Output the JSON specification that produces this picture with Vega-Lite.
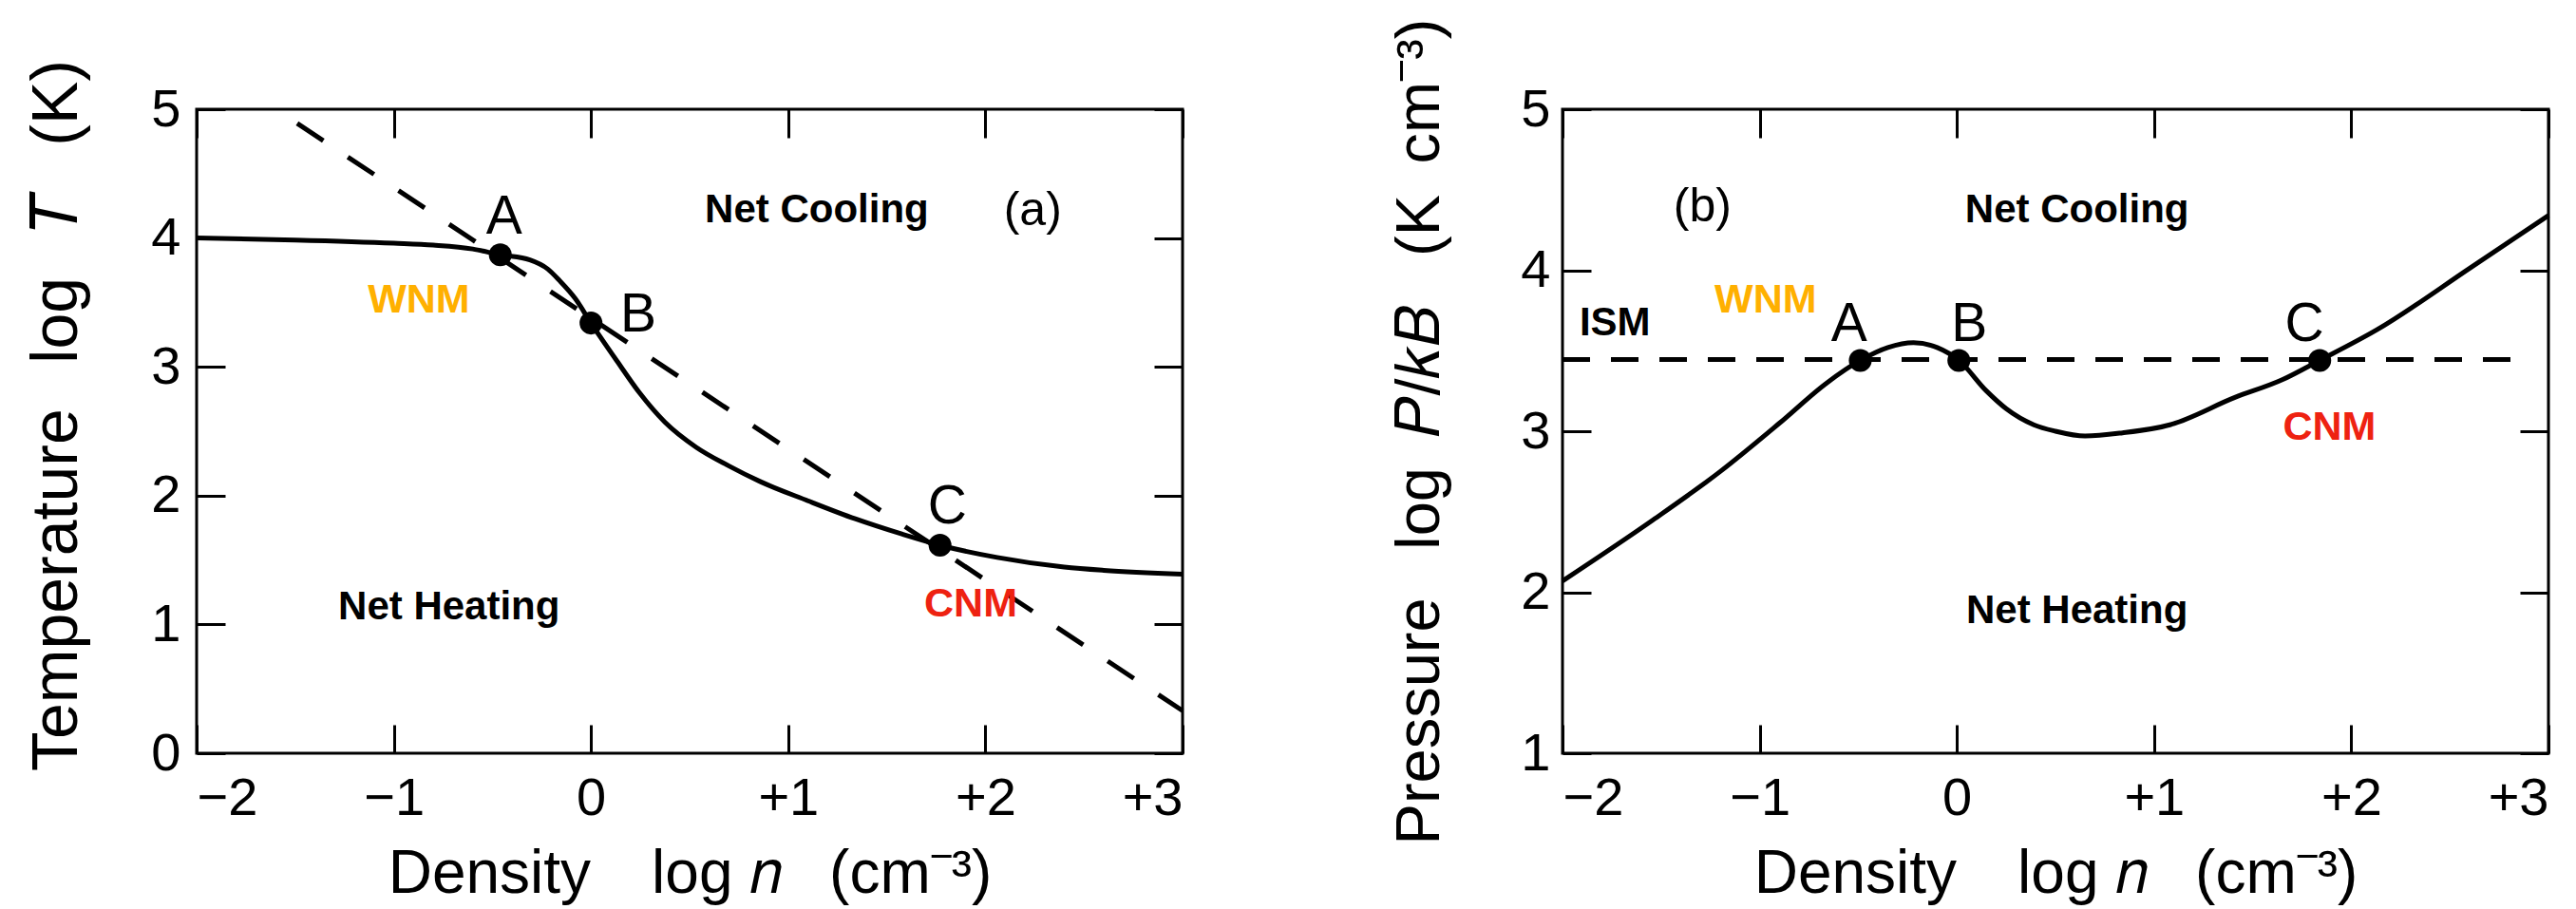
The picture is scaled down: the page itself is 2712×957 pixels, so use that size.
{
  "$schema": "https://vega.github.io/schema/vega-lite/v6.json",
  "background": "white",
  "padding": {"left": 25, "top": 17, "right": 5, "bottom": 5},
  "bounds": "flush",
  "spacing": 400,
  "config": {
    "font": "Liberation Sans",
    "view": {"stroke": "black", "strokeWidth": 3},
    "axis": {
      "grid": false, "domain": false, "tickColor": "black", "tickWidth": 3, "tickSize": -30,
      "labelColor": "black", "labelFont": "Liberation Sans", "labelFontSize": 56,
      "titleFont": "Liberation Sans", "titleFontSize": 64, "titleFontWeight": "normal", "titleColor": "black"
    }
  },
  "datasets": {
    "curveA": [
      {"x": -2.0, "y": 4.0}, {"x": -1.5, "y": 3.985}, {"x": -1.0, "y": 3.96}, {"x": -0.8, "y": 3.945},
      {"x": -0.6, "y": 3.915}, {"x": -0.46, "y": 3.87}, {"x": -0.31, "y": 3.83}, {"x": -0.22, "y": 3.76},
      {"x": -0.16, "y": 3.67}, {"x": -0.08, "y": 3.53}, {"x": 0.0, "y": 3.34}, {"x": 0.134, "y": 3.04},
      {"x": 0.245, "y": 2.8}, {"x": 0.375, "y": 2.57}, {"x": 0.534, "y": 2.375}, {"x": 0.7, "y": 2.23},
      {"x": 0.857, "y": 2.11}, {"x": 1.1, "y": 1.96}, {"x": 1.34, "y": 1.82}, {"x": 1.58, "y": 1.7},
      {"x": 1.77, "y": 1.615}, {"x": 2.06, "y": 1.52}, {"x": 2.4, "y": 1.445}, {"x": 2.6, "y": 1.42},
      {"x": 3.0, "y": 1.39}
    ],
    "dashA": [{"x": -1.49, "y": 4.89}, {"x": 3.0, "y": 0.33}],
    "ptsA": [{"x": -0.46, "y": 3.87}, {"x": 0.0, "y": 3.34}, {"x": 1.77, "y": 1.615}],
    "lettersA": [
      {"x": -0.44, "y": 4.034, "label": "A"},
      {"x": 0.24, "y": 3.274, "label": "B"},
      {"x": 1.807, "y": 1.785, "label": "C"}
    ],
    "boldA": [
      {"x": 1.145, "y": 4.12, "label": "Net Cooling"},
      {"x": -0.72, "y": 1.04, "label": "Net Heating"}
    ],
    "phaseA": [
      {"x": -0.873, "y": 3.42, "label": "WNM"},
      {"x": 1.926, "y": 1.062, "label": "CNM"}
    ],
    "tagA": [{"x": 2.24, "y": 4.21, "label": "(a)"}],
    "curveB": [
      {"x": -2.0, "y": 2.07}, {"x": -1.54, "y": 2.45}, {"x": -1.2, "y": 2.75}, {"x": -0.9, "y": 3.05},
      {"x": -0.66, "y": 3.3}, {"x": -0.49, "y": 3.44}, {"x": -0.35, "y": 3.52}, {"x": -0.22, "y": 3.55},
      {"x": -0.1, "y": 3.52}, {"x": 0.01, "y": 3.44}, {"x": 0.15, "y": 3.25}, {"x": 0.25, "y": 3.14},
      {"x": 0.39, "y": 3.04}, {"x": 0.5, "y": 3.0}, {"x": 0.65, "y": 2.97}, {"x": 0.84, "y": 2.99},
      {"x": 1.08, "y": 3.04}, {"x": 1.41, "y": 3.21}, {"x": 1.65, "y": 3.32}, {"x": 1.84, "y": 3.44},
      {"x": 2.13, "y": 3.63}, {"x": 2.61, "y": 4.02}, {"x": 3.0, "y": 4.34}
    ],
    "dashB": [{"x": -2.0, "y": 3.445}, {"x": 2.9, "y": 3.445}],
    "ptsB": [{"x": -0.49, "y": 3.44}, {"x": 0.01, "y": 3.44}, {"x": 1.84, "y": 3.44}],
    "lettersB": [
      {"x": -0.546, "y": 3.56, "label": "A"},
      {"x": 0.063, "y": 3.56, "label": "B"},
      {"x": 1.763, "y": 3.56, "label": "C"}
    ],
    "boldB": [
      {"x": 0.609, "y": 4.3, "label": "Net Cooling"},
      {"x": 0.609, "y": 1.81, "label": "Net Heating"},
      {"x": -1.734, "y": 3.596, "label": "ISM"}
    ],
    "phaseB": [
      {"x": -0.97, "y": 3.74, "label": "WNM"},
      {"x": 1.889, "y": 2.947, "label": "CNM"}
    ],
    "tagB": [{"x": -1.29, "y": 4.39, "label": "(b)"}]
  },
  "hconcat": [
    {
      "width": 1038,
      "height": 678,
      "resolve": {"axis": {"x": "independent", "y": "independent"}},
      "layer": [
        {
          "data": {"name": "curveA"},
          "mark": {"type": "line", "color": "black", "strokeWidth": 5, "interpolate": "monotone"},
          "encoding": {
            "x": {"field": "x", "type": "quantitative", "scale": {"domain": [-2, 3], "nice": false, "zero": false},
                  "axis": {"orient": "bottom", "values": [-2, -1, 0, 1, 2, 3], "labelPadding": 50,
                           "labelExpr": "datum.value > 0 ? '+' + datum.value : (datum.value < 0 ? '−' + (-datum.value) : '0')",
                           "title": "Density\u2003log\u00a0𝑛\u2002\u00a0(cm⁻³)", "titlePadding": 20}},
            "y": {"field": "y", "type": "quantitative", "scale": {"domain": [0, 5], "nice": false, "zero": false},
                  "axis": {"orient": "left", "values": [0, 1, 2, 3, 4, 5], "labelPadding": 47,
                           "title": "Temperature\u2002\u2009log\u2002\u2009𝑇\u2002\u2009(K)", "titleFontSize": 68, "titlePadding": 64, "titleY": 322}}
          }
        },
        {
          "data": {"name": "dashA"},
          "mark": {"type": "line", "color": "black", "strokeWidth": 5, "strokeDash": [33, 31]},
          "encoding": {
            "x": {"field": "x", "type": "quantitative", "scale": {"domain": [-2, 3], "nice": false, "zero": false},
                  "axis": {"orient": "top", "values": [-2, -1, 0, 1, 2, 3], "labels": false, "title": null}},
            "y": {"field": "y", "type": "quantitative", "scale": {"domain": [0, 5], "nice": false, "zero": false},
                  "axis": {"orient": "right", "values": [0, 1, 2, 3, 4, 5], "labels": false, "title": null}}
          }
        },
        {
          "data": {"name": "ptsA"},
          "mark": {"type": "circle", "color": "black", "opacity": 1, "size": 580},
          "encoding": {
            "x": {"field": "x", "type": "quantitative", "axis": null},
            "y": {"field": "y", "type": "quantitative", "axis": null}
          }
        },
        {
          "data": {"name": "lettersA"},
          "mark": {"type": "text", "fontSize": 57, "align": "center", "baseline": "alphabetic", "color": "black"},
          "encoding": {
            "x": {"field": "x", "type": "quantitative", "axis": null},
            "y": {"field": "y", "type": "quantitative", "axis": null},
            "text": {"field": "label"}
          }
        },
        {
          "data": {"name": "boldA"},
          "mark": {"type": "text", "fontSize": 42, "fontWeight": "bold", "align": "center", "baseline": "alphabetic", "color": "black"},
          "encoding": {
            "x": {"field": "x", "type": "quantitative", "axis": null},
            "y": {"field": "y", "type": "quantitative", "axis": null},
            "text": {"field": "label"}
          }
        },
        {
          "data": {"name": "phaseA"},
          "mark": {"type": "text", "fontSize": 43, "fontWeight": "bold", "align": "center", "baseline": "alphabetic"},
          "encoding": {
            "x": {"field": "x", "type": "quantitative", "axis": null},
            "y": {"field": "y", "type": "quantitative", "axis": null},
            "text": {"field": "label"},
            "color": {"field": "label", "type": "nominal", "scale": {"domain": ["WNM", "CNM"], "range": ["#FFB000", "#EE2211"]}, "legend": null}
          }
        },
        {
          "data": {"name": "tagA"},
          "mark": {"type": "text", "fontSize": 50, "align": "center", "baseline": "middle", "color": "black"},
          "encoding": {
            "x": {"field": "x", "type": "quantitative", "axis": null},
            "y": {"field": "y", "type": "quantitative", "axis": null},
            "text": {"field": "label"}
          }
        }
      ]
    },
    {
      "width": 1038,
      "height": 678,
      "resolve": {"axis": {"x": "independent", "y": "independent"}},
      "layer": [
        {
          "data": {"name": "curveB"},
          "mark": {"type": "line", "color": "black", "strokeWidth": 5, "interpolate": "monotone"},
          "encoding": {
            "x": {"field": "x", "type": "quantitative", "scale": {"domain": [-2, 3], "nice": false, "zero": false},
                  "axis": {"orient": "bottom", "values": [-2, -1, 0, 1, 2, 3], "labelPadding": 50,
                           "labelExpr": "datum.value > 0 ? '+' + datum.value : (datum.value < 0 ? '−' + (-datum.value) : '0')",
                           "title": "Density\u2003log\u00a0𝑛\u2002\u00a0(cm⁻³)", "titlePadding": 20}},
            "y": {"field": "y", "type": "quantitative", "scale": {"domain": [1, 5], "nice": false, "zero": false},
                  "axis": {"orient": "left", "values": [1, 2, 3, 4, 5], "labelPadding": 43,
                           "title": "Pressure\u2002\u00a0log\u2002𝑃/𝑘𝐵\u2002\u00a0(K\u2002cm⁻³)", "titleFontSize": 65, "titlePadding": 72}}
          }
        },
        {
          "data": {"name": "dashB"},
          "mark": {"type": "line", "color": "black", "strokeWidth": 5, "strokeDash": [29, 22]},
          "encoding": {
            "x": {"field": "x", "type": "quantitative", "scale": {"domain": [-2, 3], "nice": false, "zero": false},
                  "axis": {"orient": "top", "values": [-2, -1, 0, 1, 2, 3], "labels": false, "title": null}},
            "y": {"field": "y", "type": "quantitative", "scale": {"domain": [1, 5], "nice": false, "zero": false},
                  "axis": {"orient": "right", "values": [1, 2, 3, 4, 5], "labels": false, "title": null}}
          }
        },
        {
          "data": {"name": "ptsB"},
          "mark": {"type": "circle", "color": "black", "opacity": 1, "size": 580},
          "encoding": {
            "x": {"field": "x", "type": "quantitative", "axis": null},
            "y": {"field": "y", "type": "quantitative", "axis": null}
          }
        },
        {
          "data": {"name": "lettersB"},
          "mark": {"type": "text", "fontSize": 57, "align": "center", "baseline": "alphabetic", "color": "black"},
          "encoding": {
            "x": {"field": "x", "type": "quantitative", "axis": null},
            "y": {"field": "y", "type": "quantitative", "axis": null},
            "text": {"field": "label"}
          }
        },
        {
          "data": {"name": "boldB"},
          "mark": {"type": "text", "fontSize": 42, "fontWeight": "bold", "align": "center", "baseline": "alphabetic", "color": "black"},
          "encoding": {
            "x": {"field": "x", "type": "quantitative", "axis": null},
            "y": {"field": "y", "type": "quantitative", "axis": null},
            "text": {"field": "label"}
          }
        },
        {
          "data": {"name": "phaseB"},
          "mark": {"type": "text", "fontSize": 43, "fontWeight": "bold", "align": "center", "baseline": "alphabetic"},
          "encoding": {
            "x": {"field": "x", "type": "quantitative", "axis": null},
            "y": {"field": "y", "type": "quantitative", "axis": null},
            "text": {"field": "label"},
            "color": {"field": "label", "type": "nominal", "scale": {"domain": ["WNM", "CNM"], "range": ["#FFB000", "#EE2211"]}, "legend": null}
          }
        },
        {
          "data": {"name": "tagB"},
          "mark": {"type": "text", "fontSize": 50, "align": "center", "baseline": "middle", "color": "black"},
          "encoding": {
            "x": {"field": "x", "type": "quantitative", "axis": null},
            "y": {"field": "y", "type": "quantitative", "axis": null},
            "text": {"field": "label"}
          }
        }
      ]
    }
  ]
}
